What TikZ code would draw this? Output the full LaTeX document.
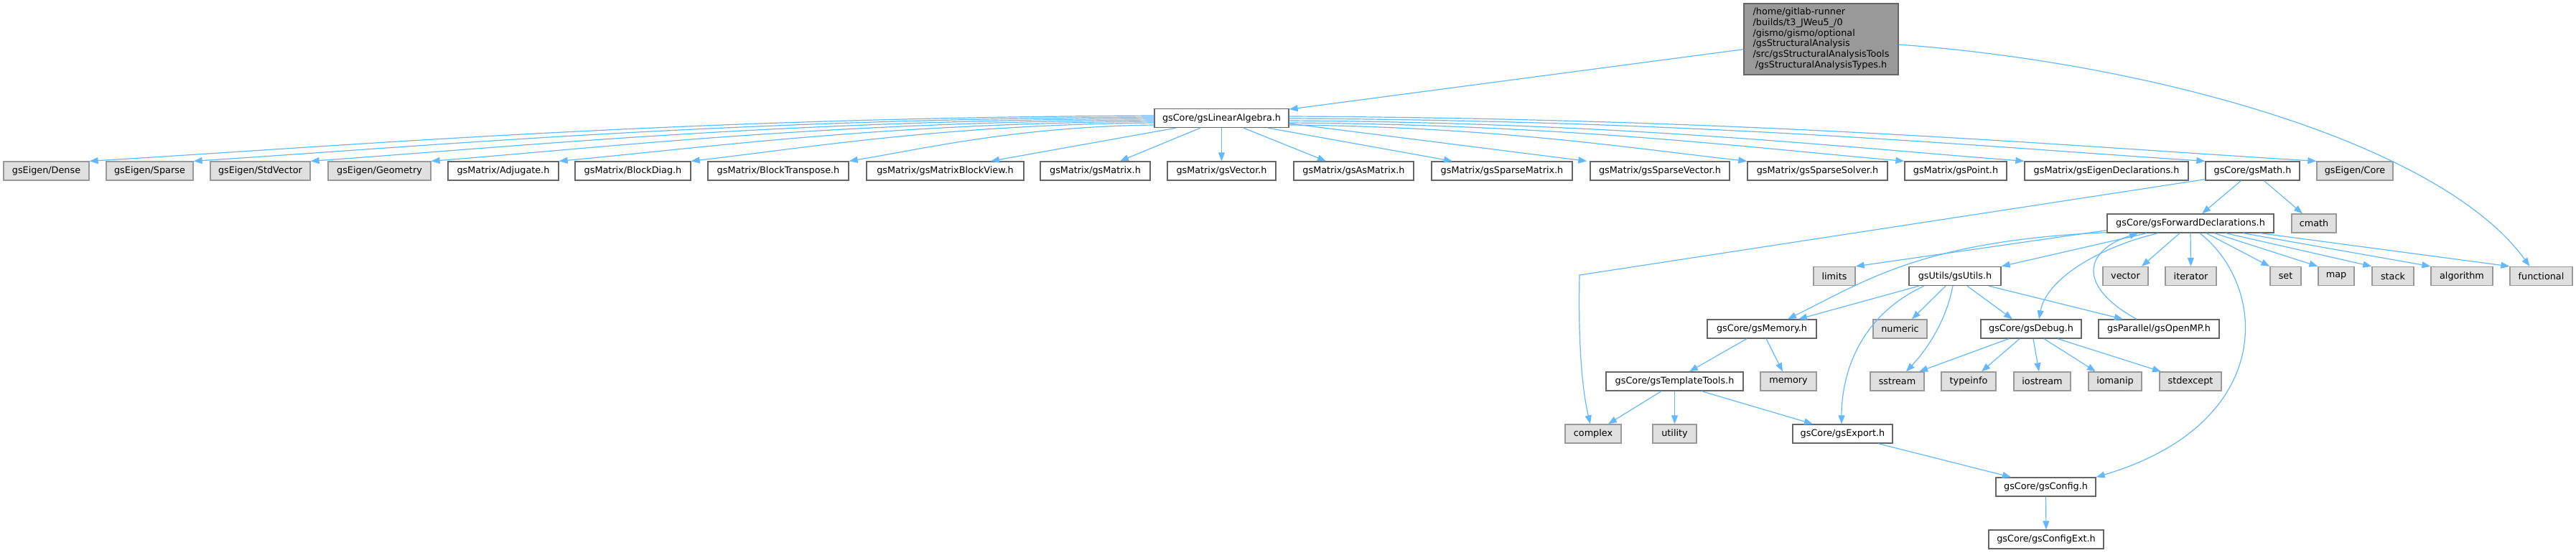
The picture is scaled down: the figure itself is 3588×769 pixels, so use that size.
\documentclass[tikz,border=0pt]{standalone}
\usepackage{fontspec}
\setmainfont{DejaVu Sans}
\usetikzlibrary{arrows.meta,calc}
\definecolor{edgec}{HTML}{63B8FF}
\definecolor{bd}{HTML}{666666}
\definecolor{gbd}{HTML}{999999}
\definecolor{gfill}{HTML}{E0E0E0}
\definecolor{mfill}{HTML}{999999}
\newcommand{\fanedge}[2]{\draw[edge] let \p1=(#1), \p2=(#2) in (\p1) .. controls ({0.55*\x1+0.45*\x2},{0.95*\y1+0.05*\y2}) and ({0.25*\x1+0.75*\x2},{0.35*\y1+0.65*\y2}) .. (\p2);}
\begin{document}
\begin{tikzpicture}[x=1pt,y=1pt,
 nbox/.style={draw=bd, fill=white, line width=1.3pt, minimum height=26pt, inner sep=0pt, font=\fontsize{12.8}{14.8}\selectfont},
 sbox/.style={nbox, draw=gbd, fill=gfill},
 mbox/.style={nbox, fill=mfill},
 edge/.style={draw=edgec, line width=1.2pt, -{Triangle[length=12pt,width=9pt]}}]
\useasboundingbox (0,0) rectangle (3588,-769);
% main
\node[mbox, minimum width=215pt, minimum height=99pt] (main) at (2536.5,-54.5)
 {\begin{tabular}{@{}l@{}}/home/gitlab-runner\\/builds/t3\_JWeu5\_/0\\/gismo/gismo/optional\\/gsStructuralAnalysis\\/src/gsStructuralAnalysisTools\\\multicolumn{1}{@{}c@{}}{/gsStructuralAnalysisTypes.h}\end{tabular}};
\node[nbox, minimum width=187pt] (lin) at (1701.5,-164.5) {gsCore/gsLinearAlgebra.h};
% row 1
\node[sbox, minimum width=119pt] (dense) at (64.5,-238) {gsEigen/Dense};
\node[sbox, minimum width=121pt] (sparse) at (208.5,-238) {gsEigen/Sparse};
\node[sbox, minimum width=139pt] (stdvec) at (362.5,-238) {gsEigen/StdVector};
\node[sbox, minimum width=143pt] (geom) at (528.5,-238) {gsEigen/Geometry};
\node[nbox, minimum width=154pt] (adj) at (701,-238) {gsMatrix/Adjugate.h};
\node[nbox, minimum width=161pt] (bdiag) at (881.5,-238) {gsMatrix/BlockDiag.h};
\node[nbox, minimum width=196pt] (btrans) at (1084,-238) {gsMatrix/BlockTranspose.h};
\node[nbox, minimum width=219pt] (bview) at (1316.5,-238) {gsMatrix/gsMatrixBlockView.h};
\node[nbox, minimum width=153pt] (gsmat) at (1525.5,-238) {gsMatrix/gsMatrix.h};
\node[nbox, minimum width=151pt] (gsvec) at (1701.5,-238) {gsMatrix/gsVector.h};
\node[nbox, minimum width=167pt] (asmat) at (1885.5,-238) {gsMatrix/gsAsMatrix.h};
\node[nbox, minimum width=196pt] (spmat) at (2092,-238) {gsMatrix/gsSparseMatrix.h};
\node[nbox, minimum width=194pt] (spvec) at (2312,-238) {gsMatrix/gsSparseVector.h};
\node[nbox, minimum width=195pt] (spsolv) at (2531.5,-238) {gsMatrix/gsSparseSolver.h};
\node[nbox, minimum width=142pt] (point) at (2724,-238) {gsMatrix/gsPoint.h};
\node[nbox, minimum width=228pt] (eigdecl) at (2934,-238) {gsMatrix/gsEigenDeclarations.h};
\node[nbox, minimum width=131pt] (math) at (3137.5,-238) {gsCore/gsMath.h};
\node[sbox, minimum width=106pt] (core) at (3280,-238) {gsEigen/Core};
% row 2
\node[nbox, minimum width=232pt] (fwd) at (3051,-311) {gsCore/gsForwardDeclarations.h};
\node[sbox, minimum width=62pt] (cmath) at (3223,-311) {cmath};
% row 3
\node[sbox, minimum width=58pt] (limits) at (2555,-384.5) {limits};
\node[nbox, minimum width=128pt] (utils) at (2723,-384.5) {gsUtils/gsUtils.h};
\node[sbox, minimum width=63pt] (vector) at (2960.5,-384.5) {vector};
\node[sbox, minimum width=71pt] (iterator) at (3051.5,-384.5) {iterator};
\node[sbox, minimum width=43pt] (set) at (3183.5,-384.5) {set};
\node[sbox, minimum width=50pt] (map) at (3254,-384.5) {map};
\node[sbox, minimum width=58pt] (stack) at (3333,-384.5) {stack};
\node[sbox, minimum width=86pt] (algorithm) at (3429,-384.5) {algorithm};
\node[sbox, minimum width=87pt] (functional) at (3539.5,-384.5) {functional};
% row 4
\node[nbox, minimum width=152pt] (memh) at (2454,-458) {gsCore/gsMemory.h};
\node[sbox, minimum width=75pt] (numeric) at (2646.5,-458) {numeric};
\node[nbox, minimum width=140pt] (debug) at (2829,-458) {gsCore/gsDebug.h};
\node[nbox, minimum width=168pt] (openmp) at (3007,-458) {gsParallel/gsOpenMP.h};
% row 5
\node[nbox, minimum width=191pt] (templ) at (2332.5,-531) {gsCore/gsTemplateTools.h};
\node[sbox, minimum width=78pt] (memory) at (2491,-531) {memory};
\node[sbox, minimum width=75pt] (sstream) at (2642.5,-531) {sstream};
\node[sbox, minimum width=76pt] (typeinfo) at (2742,-531) {typeinfo};
\node[sbox, minimum width=79pt] (iostream) at (2844.5,-531) {iostream};
\node[sbox, minimum width=74pt] (iomanip) at (2946,-531) {iomanip};
\node[sbox, minimum width=86pt] (stdexcept) at (3051,-531) {stdexcept};
% row 6
\node[sbox, minimum width=78pt] (complex) at (2219,-604) {complex};
\node[sbox, minimum width=61pt] (utility) at (2332.5,-604) {utility};
\node[nbox, minimum width=139pt] (export) at (2566.5,-604) {gsCore/gsExport.h};
% rows 7, 8
\node[nbox, minimum width=139pt] (config) at (2849.5,-678) {gsCore/gsConfig.h};
\node[nbox, minimum width=160pt] (configext) at (2850,-751) {gsCore/gsConfigExt.h};

% ---- edges ----
\draw[edge] (main) -- (lin);
\draw[edge] ([yshift=-7.5pt]main.east) .. controls (3000,-88) and (3400,-200) .. ([xshift=-16pt]functional.north);
% lin fan left
\fanedge{[yshift=3.5pt]lin.west}{dense.north east}
\fanedge{[yshift=1.5pt]lin.west}{sparse.north east}
\fanedge{[yshift=-0.5pt]lin.west}{stdvec.north east}
\fanedge{[yshift=-2.5pt]lin.west}{geom.north east}
\fanedge{[yshift=-4.5pt]lin.west}{adj.north east}
\fanedge{[yshift=-6.5pt]lin.west}{bdiag.north east}
\fanedge{[yshift=-9.5pt]lin.west}{btrans.north east}
% lin straight
\draw[edge] ([xshift=-63.5pt]lin.south) -- ([xshift=63.5pt]bview.north);
\draw[edge] ([xshift=-29.5pt]lin.south) -- ([xshift=34.5pt]gsmat.north);
\draw[edge] (lin.south) -- (gsvec.north);
\draw[edge] ([xshift=30.5pt]lin.south) -- ([xshift=-38.5pt]asmat.north);
\draw[edge] ([xshift=64.5pt]lin.south) -- ([xshift=-69pt]spmat.north);
\draw[edge] ([yshift=-7.5pt]lin.east) -- ([xshift=-4pt]spvec.north west);
% lin fan right
\fanedge{[yshift=-9.5pt]lin.east}{spsolv.north west}
\fanedge{[yshift=-6.5pt]lin.east}{point.north west}
\fanedge{[yshift=-3.5pt]lin.east}{eigdecl.north west}
\fanedge{[yshift=-0.5pt]lin.east}{math.north west}
\fanedge{[yshift=2.5pt]lin.east}{core.north west}
% gsMath
\draw[edge] (math) -- (fwd);
\draw[edge] (math) -- (cmath);
\draw[edge] ([yshift=2pt]math.south west) -- (2200,-383) .. controls (2198,-470) and (2203,-540) .. ([xshift=-4pt]complex.north);
% forward declarations
\draw[edge] ([yshift=4pt]fwd.south west) -- (limits.north east);
\draw[edge] ([yshift=1pt]fwd.south west) .. controls (2680,-335) and (2600,-390) .. ([xshift=36pt]memh.north);
\draw[edge] ([xshift=-61pt]fwd.south) -- (utils.north east);
\draw[edge] ([xshift=-45pt]fwd.south) .. controls (2920,-345) and (2850,-390) .. ([xshift=11pt]debug.north);
\draw[edge] ([xshift=-15pt]fwd.south) -- ([xshift=22.5pt]vector.north);
\draw[edge] (fwd.south) -- (iterator.north);
\draw[edge] ([xshift=22pt]fwd.south) -- (set.north west);
\draw[edge] ([xshift=33pt]fwd.south) -- (map.north west);
\draw[edge] ([xshift=49pt]fwd.south) -- (stack.north west);
\draw[edge] ([xshift=73pt]fwd.south) -- (algorithm.north west);
\draw[edge] ([xshift=97pt]fwd.south) -- (functional.north west);
\draw[edge] ([xshift=13pt]fwd.south) .. controls (3160,-400) and (3170,-590) .. (config.north east);
\draw[edge] ([xshift=-31pt]openmp.north) .. controls (2895,-400) and (2900,-350) .. ([xshift=-73pt]fwd.south);
% utils
\draw[edge] ([xshift=-50pt]utils.south) -- ([xshift=51pt]memh.north);
\draw[edge] ([xshift=-13pt]utils.south) -- ([xshift=16.5pt]numeric.north);
\draw[edge] ([xshift=-3pt]utils.south) .. controls (2712,-440) and (2690,-480) .. ([xshift=12.5pt]sstream.north);
\draw[edge] ([xshift=-43pt]utils.south) .. controls (2590,-440) and (2565,-520) .. ([xshift=-1.5pt]export.north);
\draw[edge] ([xshift=17pt]utils.south) -- ([xshift=-26pt]debug.north);
\draw[edge] ([xshift=47pt]utils.south) -- ([xshift=-50pt]openmp.north);
% memory
\draw[edge] ([xshift=-21pt]memh.south) -- ([xshift=20.5pt]templ.north);
\draw[edge] ([xshift=6pt]memh.south) -- ([xshift=-8pt]memory.north);
% template tools
\draw[edge] ([xshift=-18.5pt]templ.south) -- ([xshift=21pt]complex.north);
\draw[edge] (templ.south) -- (utility.north);
\draw[edge] ([xshift=37.5pt]templ.south) -- ([xshift=-41.5pt]export.north);
% debug
\draw[edge] ([xshift=-31pt]debug.south) -- ([xshift=30.5pt]sstream.north);
\draw[edge] ([xshift=-16pt]debug.south) -- ([xshift=18pt]typeinfo.north);
\draw[edge] ([xshift=3pt]debug.south) -- ([xshift=-4.5pt]iostream.north);
\draw[edge] ([xshift=18pt]debug.south) -- ([xshift=-27pt]iomanip.north);
\draw[edge] ([xshift=37pt]debug.south) -- ([xshift=-41pt]stdexcept.north);
% export, config
\draw[edge] ([xshift=49.5pt]export.south) -- ([xshift=-48.5pt]config.north);
\draw[edge] (config.south) -- (configext.north);
\end{tikzpicture}
\end{document}
